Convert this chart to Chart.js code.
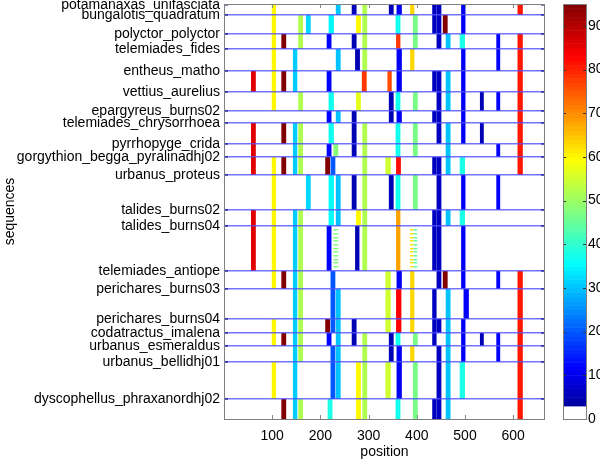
<!DOCTYPE html>
<html>
<head>
<meta charset="utf-8">
<script src="https://cdn.jsdelivr.net/npm/chart.js@4"></script>
<style>
  html, body { margin: 0; padding: 0; background: #fff; }
  canvas { display: block; }
</style>
</head>
<body>
<canvas id="chart" width="600" height="461"></canvas>
<script>
// sequence labels and the row where each block starts
const sequences = [
  'potamanaxas_unifasciata', 'bungalotis_quadratum', 'polyctor_polyctor', 'telemiades_fides',
  'entheus_matho', 'vettius_aurelius', 'epargyreus_burns02', 'telemiades_chrysorrhoea',
  'pyrrhopyge_crida', 'gorgythion_begga_pyralinadhj02', 'urbanus_proteus', 'talides_burns02',
  'talides_burns04', 'telemiades_antiope', 'perichares_burns03', 'perichares_burns04',
  'codatractus_imalena', 'urbanus_esmeraldus', 'urbanus_bellidhj01', 'dyscophellus_phraxanordhj02'
];
const seqRows = [1, 11, 30, 45, 67, 88, 107, 119, 140, 153, 171, 206, 222, 267, 285, 315, 329, 342, 358, 395];
const lastRow = 415;
const maxPosition = 666;
const xTicks = [100, 200, 300, 400, 500, 600];
const cbarTicks = [0, 10, 20, 30, 40, 50, 60, 70, 80, 90];
const cbarMax = 95;

// [start position, end position, first block, last block, value]
const columns = [
  [56, 66, 4, 4, 86], [56, 66, 7, 9, 86], [56, 66, 11, 12, 86],
  [99, 108, 0, 5, 60], [99, 108, 9, 13, 60], [99, 108, 15, 16, 60], [99, 108, 18, 18, 60],
  [119, 129, 2, 2, 95], [119, 129, 4, 4, 95], [119, 129, 7, 7, 95], [119, 129, 9, 9, 95],
  [119, 129, 13, 13, 95], [119, 129, 16, 16, 95], [119, 129, 19, 19, 95],
  [143, 152, 3, 4, 31], [143, 152, 7, 9, 31], [143, 152, 11, 19, 31],
  [154, 164, 1, 2, 52], [154, 164, 5, 5, 52], [154, 164, 7, 9, 52], [154, 164, 11, 17, 52], [154, 164, 19, 19, 52],
  [170, 180, 1, 1, 32], [170, 180, 10, 10, 32],
  [210, 220, 9, 9, 95], [210, 220, 15, 15, 95],
  [213, 223, 2, 2, 12], [213, 223, 4, 4, 12], [213, 223, 6, 6, 12], [213, 223, 8, 8, 12],
  [213, 223, 12, 12, 12], [213, 223, 16, 16, 12],
  [217, 228, 1, 1, 35], [217, 228, 5, 5, 37], [217, 228, 7, 7, 37], [217, 228, 10, 11, 36], [215, 225, 19, 19, 38],
  [221, 231, 9, 9, 20], [221, 231, 13, 15, 20], [221, 231, 17, 18, 20],
  [227, 237, 8, 8, 48],
  [232, 242, 0, 0, 30], [232, 242, 3, 3, 30], [232, 242, 6, 6, 30], [232, 242, 10, 11, 30], [232, 242, 14, 18, 30],
  [265, 275, 0, 0, 5], [265, 275, 2, 2, 5], [265, 275, 6, 8, 5], [265, 275, 10, 10, 5], [265, 275, 15, 16, 5],
  [272, 282, 3, 3, 5], [272, 281, 12, 12, 5],
  [274, 284, 1, 1, 60], [274, 284, 5, 5, 57], [274, 284, 11, 11, 60], [274, 284, 18, 19, 60],
  [287, 297, 0, 3, 52], [287, 297, 7, 12, 52], [287, 297, 16, 19, 52],
  [286, 296, 4, 4, 78],
  [335, 346, 9, 9, 55], [335, 346, 13, 15, 55], [335, 346, 18, 18, 55],
  [339, 348, 4, 4, 76],
  [342, 352, 0, 0, 5], [342, 352, 5, 6, 5], [342, 352, 10, 10, 5], [342, 352, 16, 17, 5],
  [358, 369, 0, 0, 11], [358, 369, 3, 4, 11], [358, 369, 6, 6, 11], [358, 369, 13, 13, 11], [358, 369, 17, 18, 11],
  [356, 366, 1, 1, 37], [356, 366, 5, 5, 37], [356, 366, 7, 8, 37], [356, 366, 10, 10, 37],
  [356, 366, 16, 16, 37], [356, 366, 19, 19, 37],
  [357, 366, 2, 2, 78],
  [357, 367, 9, 9, 82], [357, 368, 14, 15, 83],
  [357, 366, 11, 12, 68],
  [386, 395, 0, 0, 63], [386, 395, 3, 3, 63], [386, 395, 13, 15, 63], [386, 395, 17, 17, 63],
  [392, 402, 1, 2, 47], [392, 402, 5, 5, 47], [392, 402, 7, 8, 47], [392, 402, 10, 10, 47],
  [392, 402, 16, 16, 47], [392, 402, 18, 19, 47],
  [432, 441, 0, 1, 6], [432, 441, 4, 4, 6], [432, 441, 6, 6, 6], [432, 441, 9, 9, 6],
  [432, 441, 11, 12, 6], [432, 441, 14, 16, 6], [432, 441, 19, 19, 6],
  [441, 451, 0, 2, 6], [441, 451, 4, 7, 6], [441, 451, 9, 13, 6], [441, 451, 15, 15, 6], [441, 451, 17, 19, 6],
  [454, 464, 1, 1, 95], [454, 464, 13, 13, 95],
  [460, 470, 2, 2, 30], [460, 470, 4, 5, 30], [460, 470, 7, 9, 30], [460, 470, 11, 11, 30], [460, 470, 14, 19, 30],
  [489, 500, 2, 2, 38], [489, 500, 9, 9, 38], [489, 500, 11, 11, 38], [489, 500, 18, 18, 38],
  [492, 501, 0, 1, 11], [492, 501, 3, 7, 11], [492, 501, 10, 10, 11], [492, 501, 12, 13, 11], [492, 501, 15, 17, 11],
  [497, 508, 14, 14, 11],
  [531, 539, 5, 5, 5], [531, 539, 7, 7, 5], [531, 539, 16, 16, 5],
  [565, 573, 2, 3, 12], [565, 573, 5, 5, 12], [565, 573, 8, 8, 12], [565, 573, 10, 10, 12],
  [565, 573, 13, 13, 12], [565, 573, 16, 17, 12],
  [609, 620, 0, 0, 81], [609, 620, 2, 9, 81], [609, 620, 13, 19, 81]
];

// broken columns inside talides_burns04: [start, end, value] and the rows that carry a mark
const speckleCols = [[227, 237, 48], [386, 393, 62], [393, 401, 45]];
const speckleRows = [225, 229, 233, 236, 240, 244, 247, 251, 255, 258, 262];

function jet(v) {
  const t = v / cbarMax;
  const c = x => Math.round(255 * Math.max(0, Math.min(1, x)));
  return `rgb(${c(1.5 - Math.abs(4 * t - 3))},${c(1.5 - Math.abs(4 * t - 2))},${c(1.5 - Math.abs(4 * t - 1))})`;
}
const blockStart = g => g === 0 ? 0 : seqRows[g];
const blockEnd = g => g === seqRows.length - 1 ? lastRow : seqRows[g + 1];

const heatPlugin = {
  id: 'heat',
  beforeDatasetsDraw(chart) {
    const { ctx, scales: { x, y } } = chart;
    ctx.save();
    columns.forEach(([x0, x1, g0, g1, v]) => {
      const left = x.getPixelForValue(x0), right = x.getPixelForValue(x1);
      const top = y.getPixelForValue(blockStart(g0)), bottom = y.getPixelForValue(blockEnd(g1));
      ctx.fillStyle = jet(v);
      ctx.fillRect(left, top, right - left, bottom - top);
    });
    speckleCols.forEach(([x0, x1, v]) => {
      ctx.fillStyle = jet(v);
      speckleRows.forEach(r => {
        const top = y.getPixelForValue(r), bottom = y.getPixelForValue(r + 1.5);
        ctx.fillRect(x.getPixelForValue(x0), top, x.getPixelForValue(x1) - x.getPixelForValue(x0), bottom - top);
      });
    });
    ctx.restore();
  },
  afterDraw(chart) {
    const { ctx, chartArea: a, scales: { x, y, cbar } } = chart;
    ctx.save();
    // ticks pointing inwards
    ctx.lineWidth = 1;
    ctx.strokeStyle = '#888';
    xTicks.forEach(v => {
      const px = Math.round(x.getPixelForValue(v)) + 0.5;
      ctx.beginPath();
      ctx.moveTo(px, a.bottom); ctx.lineTo(px, a.bottom - 4);
      ctx.moveTo(px, a.top); ctx.lineTo(px, a.top + 4);
      ctx.stroke();
    });
    ctx.strokeStyle = '#000070';
    seqRows.forEach(v => {
      const py = y.getPixelForValue(v);
      ctx.beginPath();
      ctx.moveTo(a.left, py); ctx.lineTo(a.left + 4, py);
      ctx.moveTo(a.right, py); ctx.lineTo(a.right - 4, py);
      ctx.stroke();
    });
    ctx.strokeStyle = '#808080';
    ctx.strokeRect(a.left + 0.5, a.top + 0.5, a.right - a.left - 1, a.bottom - a.top);

    // colour bar
    const cl = cbar.left + 18, cr = cbar.left + 41;
    for (let v = 0; v < cbarMax; v++) {
      const top = cbar.getPixelForValue(v + 1), bottom = cbar.getPixelForValue(v);
      ctx.fillStyle = v < 3 ? '#fff' : jet(v + 0.5);
      ctx.fillRect(cl, top, cr - cl, bottom - top + 0.5);
    }
    ctx.strokeStyle = '#333';
    cbarTicks.forEach(v => {
      const py = Math.round(cbar.getPixelForValue(v)) + 0.5;
      ctx.beginPath();
      ctx.moveTo(cl, py); ctx.lineTo(cl + 3, py);
      ctx.moveTo(cr, py); ctx.lineTo(cr - 3, py);
      ctx.stroke();
    });
    ctx.strokeStyle = '#808080';
    ctx.strokeRect(cl + 0.5, a.top + 0.5, cr - cl, a.bottom - a.top);
    ctx.restore();
  }
};

const font = { family: '"Liberation Sans", Arial, sans-serif', size: 14 };

new Chart(document.getElementById('chart'), {
  type: 'scatter',
  data: { datasets: [] },
  plugins: [heatPlugin],
  options: {
    responsive: false,
    animation: false,
    layout: { padding: { top: 4, left: 0, right: 0, bottom: 0 } },
    plugins: { legend: { display: false }, tooltip: { enabled: false } },
    scales: {
      x: {
        type: 'linear',
        min: 0,
        max: maxPosition,
        afterBuildTicks: axis => { axis.ticks = xTicks.map(v => ({ value: v })); },
        afterFit: axis => { axis.height = 42; axis.paddingLeft = 0; axis.paddingRight = 0; },
        grid: { drawOnChartArea: false, drawTicks: false },
        border: { display: false },
        ticks: { font, color: '#000', padding: 9, maxRotation: 0 },
        title: { display: true, text: 'position', font, color: '#000', padding: { top: 0, bottom: 0 } }
      },
      y: {
        type: 'linear',
        reverse: true,
        min: 0,
        max: lastRow,
        afterBuildTicks: axis => { axis.ticks = seqRows.map(v => ({ value: v })); },
        afterFit: axis => { axis.width = 224; axis.paddingTop = 0; axis.paddingBottom = 0; },
        grid: {
          z: 1,
          drawTicks: false,
          lineWidth: 1.5,
          color: c => c.index === 0 ? 'rgba(0,0,0,0)' : 'rgba(80,80,255,0.8)'
        },
        border: { display: false },
        ticks: {
          font, color: '#000', padding: 4, autoSkip: false,
          callback: (v, i) => sequences[i]
        },
        title: { display: true, text: 'sequences', font, color: '#000', padding: { top: 2, bottom: 0 } }
      },
      cbar: {
        axis: 'y',
        type: 'linear',
        position: 'right',
        min: 0,
        max: cbarMax,
        afterBuildTicks: axis => { axis.ticks = cbarTicks.map(v => ({ value: v })); },
        afterFit: axis => { axis.width = 55; axis.paddingTop = 0; axis.paddingBottom = 0; },
        grid: { drawOnChartArea: false, drawTicks: false },
        border: { display: false },
        ticks: { font, color: '#000', padding: 43 }
      }
    }
  }
});
</script>
</body>
</html>
